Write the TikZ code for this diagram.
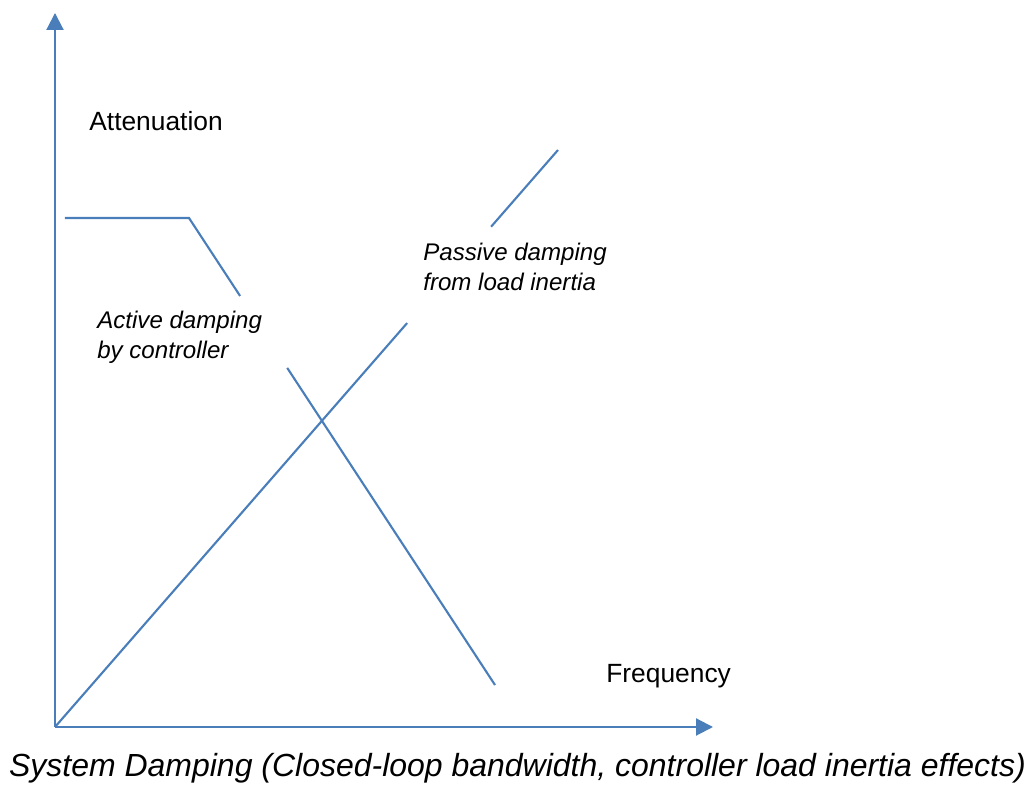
\documentclass[tikz,border=0pt]{standalone}
\usepackage{fontspec}
\setmainfont{Liberation Sans}
\usetikzlibrary{calc,arrows.meta}
\definecolor{lineblue}{HTML}{4A7EBB}
\tikzset{
  curve/.style={draw=lineblue, line width=1.2pt},
  axis/.style={curve, -{Triangle[width=0.34cm,length=0.34cm]}},
  label/.style={anchor=west, inner sep=0pt, font=\fontsize{15}{18}\selectfont},
  note/.style={label, align=left, font=\fontsize{13.7}{17}\selectfont\itshape}
}

\begin{document}
\begin{tikzpicture}
  \useasboundingbox (-1.1, -1.2) rectangle (19.48, 14.54);

  % Axes
  \coordinate (origin) at (0, 0);
  \coordinate (ytip) at (0, 14.28);
  \coordinate (xtip) at (13.16, 0);
  \draw[axis] (origin) -- (ytip);
  \draw[axis] (origin) -- (xtip);

  % Active damping curve, broken behind its label
  \coordinate (activeStart) at (0.2, 10.18);
  \coordinate (activeKnee) at (2.68, 10.18);
  \coordinate (activeEnd) at (8.8, 0.84);
  \draw[curve] (activeStart) -- (activeKnee) -- ($(activeKnee)!0.167!(activeEnd)$);
  \draw[curve] ($(activeKnee)!0.321!(activeEnd)$) -- (activeEnd);

  % Passive damping curve, broken behind its label
  \coordinate (passiveEnd) at (10.06, 11.54);
  \draw[curve] (origin) -- ($(origin)!0.700!(passiveEnd)$);
  \draw[curve] ($(origin)!0.867!(passiveEnd)$) -- (passiveEnd);

  % Labels
  \node[label] (ylabel) at (0.68, 12.12) {Attenuation};
  \node[label] (xlabel) at (11.02, 1.02) {Frequency};
  \node[note] (activelbl) at (0.84, 7.8) {Active damping\\by controller};
  \node[note] (passivelbl) at (7.36, 9.21) {Passive damping\\from load inertia};

  % Caption
  \node[font=\fontsize{18.2}{21}\selectfont\itshape, inner sep=0pt] (caption)
    at (9.25, -0.82) {System Damping (Closed-loop bandwidth, controller load inertia effects)};
\end{tikzpicture}
\end{document}
